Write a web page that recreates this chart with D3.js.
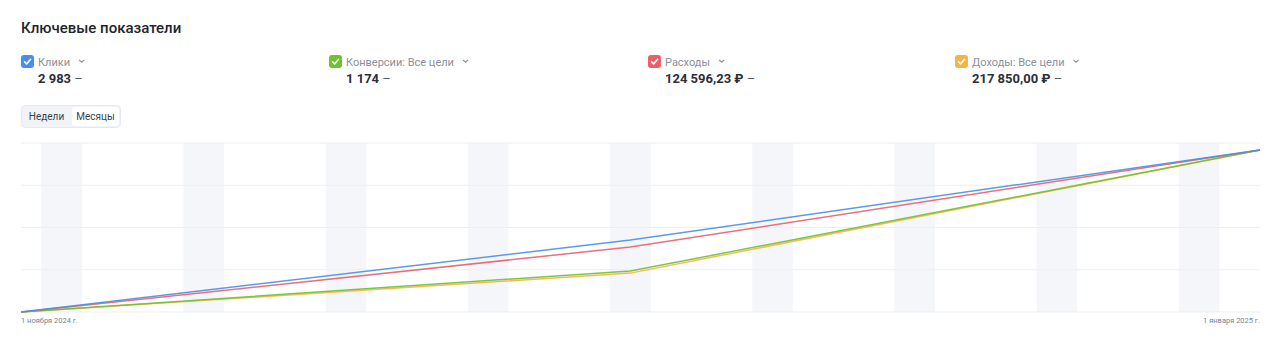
<!DOCTYPE html>
<html>
<head>
<meta charset="utf-8">
<title>Ключевые показатели</title>
<script src="https://cdn.jsdelivr.net/npm/d3@7"></script>
<style>
  body { margin: 0; background: #fff; font-family: Roboto, "Noto Sans", sans-serif; }
  svg { display: block; }
</style>
</head>
<body>
<svg id="chart" width="1280" height="342"></svg>
<script>
// данные
const dates = ["2024-11-01", "2024-12-01", "2025-01-01"];
const clicks = [0, 1325, 2983];
const conversions = [0, 297, 1174];
const expenses = [0, 49960, 124596.23];
const income = [0, 52280, 217850];

const names = ["Клики", "Конверсии: Все цели", "Расходы", "Доходы: Все цели"];
const totals = ["2 983", "1 174", "124 596,23 ₽", "217 850,00 ₽"];
const colors = ["#4a8fe7", "#6cc231", "#e9606c", "#f6b443"];
const tabs = ["Недели", "Месяцы"];
const axisLabels = ["1 ноября 2024 г.", "1 января 2025 г."];

const svg = d3.select("#chart");
const parse = d3.timeParse("%Y-%m-%d");
const xDates = dates.map(parse);

const plotLeft = 21, plotRight = 1260, plotTop = 143, plotBottom = 312;

// заголовок
svg.append("text")
  .attr("x", 21).attr("y", 33)
  .attr("font-size", 15).attr("font-weight", 500)
  .attr("fill", "#21252e")
  .text("Ключевые показатели");

// легенда
const legendX = [21, 329, 648, 955];
names.forEach((n, i) => {
  const g = svg.append("g").attr("transform", `translate(${legendX[i]},55)`);
  g.append("rect").attr("width", 13).attr("height", 13).attr("rx", 3).attr("fill", colors[i]);
  g.append("path").attr("d", "M3.5 6.8 L5.6 8.9 L9.6 4.3")
    .attr("fill", "none").attr("stroke", "#fff").attr("stroke-width", 1.6)
    .attr("stroke-linecap", "round").attr("stroke-linejoin", "round");
  const t = g.append("text").attr("x", 17).attr("y", 10.5)
    .attr("font-size", 11).attr("fill", "#8b909a").text(n);
  const w = t.node().getComputedTextLength();
  g.append("path").attr("d", `M${17 + w + 9} 4.8 l2.6 2.4 l2.6 -2.4`)
    .attr("fill", "none").attr("stroke", "#8b909a").attr("stroke-width", 1.1);
  const v = g.append("text").attr("x", 17).attr("y", 27.5)
    .attr("font-size", 13).attr("fill", "#2b2f38");
  v.append("tspan").attr("font-weight", 700).text(totals[i]);
  v.append("tspan").attr("font-weight", 400).attr("fill", "#555a64").text(" –");
});

// переключатель
const sw = svg.append("g").attr("transform", "translate(21,105)");
sw.append("rect").attr("x", 0.5).attr("y", 0.5).attr("width", 99).attr("height", 22).attr("rx", 4)
  .attr("fill", "#f1f3f7").attr("stroke", "#e6e8ee");
sw.append("rect").attr("x", 51).attr("y", 2).attr("width", 47).attr("height", 19).attr("rx", 3).attr("fill", "#fff");
sw.append("text").attr("x", 25.5).attr("y", 15).attr("text-anchor", "middle")
  .attr("font-size", 10).attr("fill", "#3a3f4a").text(tabs[0]);
sw.append("text").attr("x", 74.5).attr("y", 15).attr("text-anchor", "middle")
  .attr("font-size", 10).attr("fill", "#3a3f4a").text(tabs[1]);

// шкалы
const x = d3.scaleTime().domain(d3.extent(xDates)).range([plotLeft, plotRight]);
const grid = d3.scaleLinear().domain([0, 4]).range([plotBottom, plotTop]);

// выходные
const sats = d3.timeSaturday.range(xDates[0], xDates[2]);
svg.append("g").selectAll("rect").data(sats).join("rect")
  .attr("x", d => x(d))
  .attr("y", plotTop)
  .attr("width", d => Math.min(x(d3.timeDay.offset(d, 2)), plotRight) - x(d))
  .attr("height", plotBottom - plotTop)
  .attr("fill", "#f5f6fa");

// сетка
svg.append("g").selectAll("line").data(d3.range(5)).join("line")
  .attr("x1", plotLeft).attr("x2", plotRight)
  .attr("y1", d => grid(d)).attr("y2", d => grid(d))
  .attr("stroke", "#eceef2").attr("stroke-width", 1);

// линии (каждая серия со своей шкалой)
const series = [income, conversions, expenses, clicks];
const seriesColors = [colors[3], colors[1], colors[2], colors[0]];
series.forEach((vals, i) => {
  const y = d3.scaleLinear().domain([0, d3.max(vals)]).range([plotBottom, 150]);
  const line = d3.line().x((d, j) => x(xDates[j])).y(d => y(d));
  svg.append("path").datum(vals)
    .attr("d", line)
    .attr("fill", "none")
    .attr("stroke", seriesColors[i])
    .attr("stroke-width", 1.5)
    .attr("stroke-opacity", 0.9);
});

// подписи оси
svg.append("text").attr("x", plotLeft).attr("y", 323)
  .attr("font-size", 7.5).attr("fill", "#7d828c").text(axisLabels[0]);
svg.append("text").attr("x", plotRight).attr("y", 323).attr("text-anchor", "end")
  .attr("font-size", 7.5).attr("fill", "#7d828c").text(axisLabels[1]);
</script>
</body>
</html>
